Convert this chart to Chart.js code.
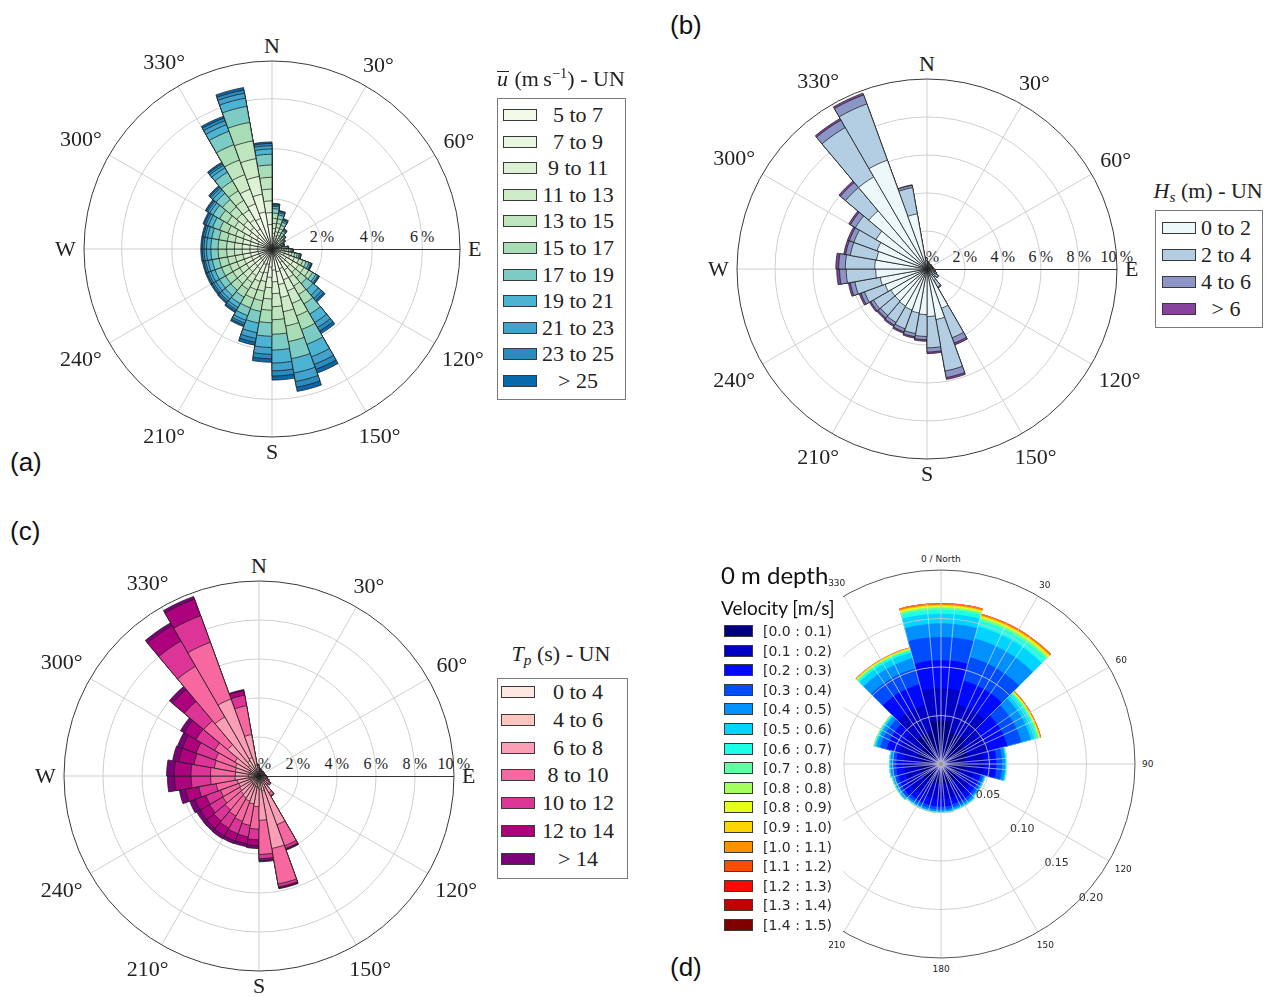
<!DOCTYPE html>
<html>
<head>
<meta charset="utf-8">
<title>Wind, wave and current roses</title>
<script src="https://cdn.jsdelivr.net/npm/chart.js@4.4.1/dist/chart.umd.min.js"></script>
<style>
html,body{margin:0;padding:0;background:#fff;}
body{width:1269px;height:997px;position:relative;overflow:hidden;font-family:"Liberation Serif","Times New Roman",serif;color:#222;}
canvas{position:absolute;z-index:2;}
.t{position:absolute;white-space:nowrap;line-height:1;z-index:3;}
.tick{z-index:1;}
.panel{position:absolute;font-family:"Liberation Sans",Arial,sans-serif;font-size:26px;line-height:1;color:#111;z-index:3;}
.legbox{position:absolute;border:1px solid #7a7a7a;box-sizing:border-box;z-index:3;}
.sw{position:absolute;border:1px solid #3a3a3a;box-sizing:border-box;z-index:5;}
sup{font-size:0.66em;vertical-align:0;position:relative;top:-0.55em;line-height:0;}
sub{font-size:0.7em;vertical-align:0;position:relative;top:0.28em;line-height:0;}
.ubar{display:inline-block;font-style:italic;border-top:1px solid #222;line-height:0.62em;padding:0 1px 0 0;}
#legd{position:absolute;left:714px;top:594px;width:129px;height:342px;background:#fff;z-index:4;}
.dtxt{font-family:"DejaVu Sans",sans-serif;}
</style>
</head>
<body>
<div class="panel" style="left:10px;top:449px">(a)</div>
<div class="panel" style="left:670px;top:12px">(b)</div>
<div class="panel" style="left:10px;top:518px">(c)</div>
<div class="panel" style="left:670px;top:954px">(d)</div>
<canvas id="ca"></canvas>
<canvas id="cb"></canvas>
<canvas id="cc"></canvas>
<canvas id="cd"></canvas>
<div id="legd"></div>
<script>
// ---------------- categories ----------------
const sectorStartsABC = [0,10,20,30,40,50,60,70,80,90,100,110,120,130,140,150,160,170,180,190,200,210,220,230,240,250,260,270,280,290,300,310,320,330,340,350];
const sectorCentresD  = [0,10,20,30,40,50,60,70,80,90,100,110,120,130,140,150,160,170,180,190,200,210,220,230,240,250,260,270,280,290,300,310,320,330,340,350];
const compassLabels  = ['N','30°','60°','E','120°','150°','S','210°','240°','W','300°','330°'];
const compassLabelsD = ['0 / North','30','60','90','120','150','180','210','240','270','300','330'];

// ---------------- tick values ----------------
const ringTicksA = [2,4,6];          const outerA = 7.5;
const ringTicksBC = [2,4,6,8];       const outerBC = 10;
const tickLabelValuesA = [2,4,6];
const tickLabelValuesBC = [0,2,4,6,8,10];
const ringTicksD = [0.05,0.10,0.15]; const outerD = 0.20;
const tickLabelValuesD = [0.05,0.10,0.15,0.20];

// ---------------- (a) wind speed classes, % per sector ----------------
const uClasses = ['5 to 7','7 to 9','9 to 11','11 to 13','13 to 15','15 to 17','17 to 19','19 to 21','21 to 23','23 to 25','&gt; 25'];
const uColors  = ['#f2faea','#e8f6e0','#ddf1d5','#cdebc7','#bfe5bf','#a9ddb6','#7ccbc4','#4db3d3','#41a2cb','#2a8bbe','#0868ac'];
const u5_7   = [0.42,0.36,0.30,0.22,0.22,0.19,0.16,0.15,0.20,0.26,0.36,0.51,0.66,0.44,0.62,0.84,0.92,0.84,0.72,0.62,0.66,0.59,0.57,0.56,0.56,0.56,0.57,0.57,0.57,0.59,0.70,0.76,0.92,1.30,1.50,0.98];
const u7_9   = [0.20,0.17,0.14,0.10,0.10,0.09,0.07,0.07,0.09,0.12,0.17,0.24,0.31,0.25,0.35,0.47,0.52,0.47,0.41,0.35,0.36,0.32,0.31,0.31,0.31,0.31,0.31,0.31,0.31,0.32,0.34,0.36,0.44,0.62,0.72,0.47];
const u9_11  = [0.20,0.17,0.14,0.10,0.09,0.07,0.06,0.06,0.08,0.10,0.14,0.20,0.26,0.25,0.35,0.47,0.52,0.47,0.41,0.35,0.36,0.32,0.31,0.31,0.31,0.31,0.31,0.31,0.31,0.32,0.34,0.36,0.44,0.62,0.72,0.47];
const u11_13 = [0.20,0.17,0.14,0.10,0.08,0.07,0.06,0.06,0.07,0.09,0.13,0.19,0.24,0.28,0.39,0.53,0.58,0.52,0.45,0.39,0.36,0.32,0.31,0.31,0.31,0.31,0.31,0.31,0.31,0.32,0.34,0.36,0.44,0.62,0.72,0.47];
const u13_15 = [0.20,0.17,0.14,0.10,0.07,0.06,0.05,0.05,0.07,0.09,0.12,0.17,0.22,0.28,0.39,0.53,0.58,0.52,0.45,0.39,0.36,0.32,0.31,0.31,0.31,0.31,0.31,0.31,0.31,0.32,0.34,0.36,0.44,0.62,0.72,0.47];
const u15_17 = [0.21,0.18,0.15,0.11,0.06,0.05,0.04,0.04,0.05,0.07,0.10,0.14,0.18,0.30,0.43,0.58,0.63,0.58,0.50,0.43,0.40,0.35,0.34,0.34,0.34,0.34,0.34,0.34,0.34,0.35,0.35,0.38,0.46,0.65,0.75,0.49];
const u17_19 = [0.18,0.16,0.13,0.10,0.05,0.04,0.04,0.04,0.05,0.06,0.08,0.12,0.15,0.33,0.47,0.63,0.69,0.63,0.54,0.47,0.33,0.30,0.29,0.28,0.28,0.28,0.29,0.29,0.29,0.30,0.31,0.33,0.40,0.57,0.65,0.43];
const u19_21 = [0.09,0.08,0.07,0.05,0.03,0.02,0.02,0.02,0.03,0.03,0.05,0.07,0.09,0.28,0.39,0.53,0.58,0.52,0.45,0.39,0.20,0.18,0.17,0.17,0.17,0.17,0.17,0.17,0.17,0.18,0.15,0.17,0.20,0.28,0.33,0.21];
const u21_23 = [0.05,0.05,0.04,0.03,0.01,0.01,0.01,0.01,0.01,0.02,0.02,0.03,0.04,0.17,0.23,0.32,0.35,0.31,0.27,0.23,0.12,0.10,0.10,0.10,0.10,0.10,0.10,0.10,0.10,0.10,0.09,0.10,0.12,0.17,0.20,0.13];
const u23_25 = [0.04,0.03,0.03,0.02,0.01,0.01,0.01,0.01,0.01,0.01,0.01,0.02,0.02,0.11,0.16,0.21,0.23,0.21,0.18,0.16,0.08,0.07,0.07,0.07,0.07,0.07,0.07,0.07,0.07,0.07,0.06,0.07,0.08,0.11,0.13,0.09];
const u25p   = [0.03,0.02,0.02,0.01,0.01,0.01,0.01,0.01,0.01,0.01,0.01,0.02,0.02,0.08,0.12,0.16,0.17,0.16,0.14,0.12,0.07,0.06,0.06,0.06,0.06,0.06,0.06,0.06,0.06,0.06,0.05,0.05,0.06,0.08,0.10,0.06];

// ---------------- (b) significant wave height classes ----------------
const hsClasses = ['0 to 2','2 to 4','4 to 6','&gt; 6'];
const hsColors  = ['#edf8fb','#b3cde3','#8c96c6','#88419d'];
const hs0_2 = [0.30,0.27,0.24,0.24,0.24,0.24,0.24,0.24,0.27,0.30,0.35,0.40,0.45,0.40,0.70,2.20,2.70,2.50,2.40,2.35,2.30,2.25,2.20,2.20,2.35,2.50,2.70,2.75,2.70,2.80,3.10,4.00,5.60,6.10,2.95,0.45];
const hs2_4 = [0.09,0.07,0.05,0.05,0.05,0.05,0.05,0.05,0.07,0.09,0.09,0.13,0.22,0.17,0.40,1.65,2.75,1.65,1.15,1.10,1.05,1.00,1.00,1.05,1.15,1.35,1.55,1.55,1.40,1.30,1.25,1.60,3.00,3.15,1.40,0.13];
const hs4_6 = [0.01,0.01,0.01,0.01,0.01,0.01,0.01,0.01,0.01,0.01,0.01,0.02,0.03,0.03,0.05,0.30,0.35,0.22,0.17,0.17,0.17,0.17,0.17,0.17,0.20,0.25,0.35,0.35,0.25,0.25,0.30,0.35,0.45,0.50,0.12,0.02];
const hs6p  = [0,0,0,0,0,0,0,0,0,0,0,0,0,0,0,0.10,0.10,0.08,0.08,0.08,0.08,0.08,0.08,0.08,0.10,0.10,0.15,0.15,0.10,0.10,0.10,0.10,0.10,0.10,0.03,0];

// ---------------- (c) peak period classes ----------------
const tpClasses = ['0 to 4','4 to 6','6 to 8','8 to 10','10 to 12','12 to 14','&gt; 14'];
const tpColors  = ['#fde7e1','#fcc5c0','#fa9fb5','#f768a1','#dd3497','#ae017e','#7a0177'];
const tp0_4   = [0.04,0.04,0.03,0.03,0.03,0.03,0.03,0.03,0.04,0.04,0.04,0.04,0.04,0.04,0.05,0.06,0.07,0.07,0.07,0.07,0.07,0.07,0.07,0.07,0.07,0.08,0.08,0.08,0.08,0.08,0.08,0.10,0.10,0.10,0.06,0.04];
const tp4_6   = [0.16,0.15,0.14,0.14,0.14,0.14,0.14,0.14,0.16,0.18,0.20,0.25,0.30,0.25,0.45,0.60,0.70,0.60,0.50,0.48,0.45,0.42,0.40,0.38,0.38,0.40,0.45,0.46,0.40,0.40,0.45,0.60,0.80,0.90,0.50,0.20];
const tp6_8   = [0.13,0.11,0.10,0.10,0.10,0.10,0.10,0.10,0.11,0.13,0.15,0.19,0.26,0.22,0.50,2.00,3.00,1.60,1.00,0.90,0.85,0.80,0.75,0.70,0.65,0.65,0.70,0.68,0.75,0.80,0.90,1.40,2.60,3.20,1.60,0.20];
const tp8_10  = [0.05,0.04,0.02,0.02,0.02,0.02,0.02,0.02,0.03,0.04,0.05,0.06,0.09,0.08,0.17,1.15,1.85,1.75,1.15,1.12,1.10,1.08,1.05,1.00,1.00,1.10,1.25,1.27,1.10,1.10,1.20,1.60,3.00,3.10,1.50,0.10];
const tp10_12 = [0.02,0.01,0.01,0.01,0.01,0.01,0.01,0.01,0.01,0.01,0.01,0.01,0.01,0.01,0.02,0.15,0.15,0.22,0.55,0.60,0.68,0.72,0.75,0.78,0.80,0.90,1.00,1.00,1.05,1.05,1.10,1.30,1.50,1.45,0.55,0.04];
const tp12_14 = [0,0,0,0,0,0,0,0,0,0,0,0,0,0,0.01,0.05,0.06,0.10,0.30,0.36,0.40,0.45,0.48,0.54,0.60,0.70,0.85,0.86,0.80,0.75,0.70,0.80,0.90,0.90,0.24,0.02];
const tp14p   = [0,0,0,0,0,0,0,0,0,0,0,0,0,0,0,0.04,0.04,0.06,0.15,0.15,0.15,0.18,0.20,0.22,0.28,0.32,0.37,0.39,0.32,0.27,0.22,0.20,0.17,0.15,0.05,0];

// ---------------- (d) current velocity classes (frequency) ----------------
const vClasses = ['[0.0 : 0.1)','[0.1 : 0.2)','[0.2 : 0.3)','[0.3 : 0.4)','[0.4 : 0.5)','[0.5 : 0.6)','[0.6 : 0.7)','[0.7 : 0.8)','[0.8 : 0.8)','[0.8 : 0.9)','[0.9 : 1.0)','[1.0 : 1.1)','[1.1 : 1.2)','[1.2 : 1.3)','[1.3 : 1.4)','[1.4 : 1.5)'];
const vColors  = ['#000080','#0000c4','#0008ff','#004cff','#0091ff','#00d4ff','#1affe6','#5effa2','#a2ff5e','#e6ff1a','#ffd400','#ff9100','#ff4c00','#ff0800','#c40000','#800000'];
const v00_01 = [.045,.045,.034,.034,.034,.029,.029,.029,.025,.025,.025,.020,.020,.020,.021,.021,.021,.021,.021,.021,.021,.021,.021,.022,.022,.022,.022,.022,.022,.025,.025,.025,.035,.035,.035,.045];
const v01_02 = [.033,.033,.030,.030,.030,.022,.022,.022,.020,.020,.020,.015,.015,.015,.015,.015,.015,.015,.015,.015,.015,.015,.015,.016,.016,.016,.016,.016,.016,.020,.020,.020,.028,.028,.028,.033];
const v02_03 = [.029,.029,.025,.025,.025,.020,.020,.020,.012,.012,.012,.007,.007,.007,.007,.007,.007,.008,.008,.008,.008,.008,.008,.008,.008,.008,.008,.008,.008,.013,.013,.013,.022,.022,.022,.029];
const v03_04 = [.024,.024,.025,.025,.025,.015,.015,.015,.006,.006,.006,.003,.003,.003,.003,.003,.003,.003,.003,.003,.003,.003,.003,.003,.003,.003,.004,.004,.004,.007,.007,.007,.017,.017,.017,.024];
const v04_05 = [.014,.014,.020,.020,.020,.010,.010,.010,.003,.003,.003,.0015,.0015,.0015,.002,.002,.002,.002,.002,.002,.002,.002,.002,.002,.002,.002,.002,.002,.002,.004,.004,.004,.011,.011,.011,.014];
const v05_06 = [.010,.010,.013,.013,.013,.005,.005,.005,.001,.001,.001,.0008,.0008,.0008,.0010,.0010,.0010,.0010,.0010,.0010,.0010,.0010,.0010,.0010,.0010,.0010,.0010,.0010,.0010,.0015,.0015,.0015,.006,.006,.006,.010];
const v06_07 = [.004,.004,.006,.006,.006,.002,.002,.002,.0005,.0005,.0005,.0003,.0003,.0003,.0005,.0005,.0005,.0005,.0005,.0005,.0005,.0005,.0005,.0005,.0005,.0005,.0005,.0005,.0005,.0008,.0008,.0008,.002,.002,.002,.004];
const v07_08 = [.002,.002,.002,.002,.002,.001,.001,.001,.0003,.0003,.0003,0,0,0,0,0,0,0,0,0,0,0,0,0,0,0,0,0,0,.0004,.0004,.0004,.001,.001,.001,.002];
const v08_08 = [.001,.001,.0015,.0015,.0015,.0007,.0007,.0007,.0002,.0002,.0002,0,0,0,0,0,0,0,0,0,0,0,0,0,0,0,0,0,0,.0003,.0003,.0003,.0007,.0007,.0007,.001];
const v08_09 = [.001,.001,.001,.001,.001,.0005,.0005,.0005,0,0,0,0,0,0,0,0,0,0,0,0,0,0,0,0,0,0,0,0,0,0,0,0,.0005,.0005,.0005,.001];
const v09_10 = [.001,.001,.001,.001,.001,.0006,.0006,.0006,0,0,0,0,0,0,0,0,0,0,0,0,0,0,0,0,0,0,0,0,0,0,0,0,.0006,.0006,.0006,.001];
const v10_11 = [.001,.001,.001,.001,.001,.0006,.0006,.0006,0,0,0,0,0,0,0,0,0,0,0,0,0,0,0,0,0,0,0,0,0,0,0,0,.0004,.0004,.0004,.001];
const v11_12 = [.0008,.0008,.0008,.0008,.0008,.0004,.0004,.0004,0,0,0,0,0,0,0,0,0,0,0,0,0,0,0,0,0,0,0,0,0,0,0,0,.0002,.0002,.0002,.0008];
const v12_13 = [0,0,0,0,0,0,0,0,0,0,0,0,0,0,0,0,0,0,0,0,0,0,0,0,0,0,0,0,0,0,0,0,0,0,0,0];
const v13_14 = [0,0,0,0,0,0,0,0,0,0,0,0,0,0,0,0,0,0,0,0,0,0,0,0,0,0,0,0,0,0,0,0,0,0,0,0];
const v14_15 = [0,0,0,0,0,0,0,0,0,0,0,0,0,0,0,0,0,0,0,0,0,0,0,0,0,0,0,0,0,0,0,0,0,0,0,0];

// sanity check on lengths
{
  const all = {u5_7,u7_9,u9_11,u11_13,u13_15,u15_17,u17_19,u19_21,u21_23,u23_25,u25p,hs0_2,hs2_4,hs4_6,hs6p,tp0_4,tp4_6,tp6_8,tp8_10,tp10_12,tp12_14,tp14p,v00_01,v01_02,v02_03,v03_04,v04_05,v05_06,v06_07,v07_08,v08_08,v08_09,v09_10,v10_11,v11_12,v12_13,v13_14,v14_15};
  for (const k in all) if (all[k].length !== 36) throw new Error('bad length ' + k + ' ' + all[k].length);
}

// ---------------- drawing helpers ----------------
const roseDeco = {
  id: 'roseDeco',
  beforeDatasetsDraw(chart, args, o) { if (!o.onTop) drawDeco(chart, o); },
  afterDatasetsDraw(chart, args, o) { if (o.onTop) drawDeco(chart, o); }
};
function drawDeco(chart, o) {
  const s = chart.scales.r, ctx = chart.ctx;
  const cx = s.xCenter, cy = s.yCenter, R = s.getDistanceFromCenterForValue(s.max);
  ctx.save();
  ctx.lineWidth = 1;
  for (let a = 0; a < 360; a += 30) {
    if (o.darkAxis && a === 90) continue;
    const t = (a - 90) * Math.PI / 180;
    ctx.beginPath(); ctx.moveTo(cx, cy); ctx.lineTo(cx + R * Math.cos(t), cy + R * Math.sin(t));
    ctx.strokeStyle = o.lineColor; ctx.stroke();
  }
  if (o.darkAxis) {
    ctx.beginPath(); ctx.moveTo(cx, cy + 0.5); ctx.lineTo(cx + R, cy + 0.5);
    ctx.strokeStyle = o.axisColor; ctx.lineWidth = 1.1; ctx.stroke();
  }
  ctx.beginPath(); ctx.arc(cx, cy, R, 0, Math.PI * 2);
  ctx.strokeStyle = o.outerColor; ctx.lineWidth = o.outerWidth; ctx.stroke();
  if (o.hub) {
    ctx.beginPath(); ctx.arc(cx, cy, 2.5, 0, Math.PI * 2);
    ctx.fillStyle = o.hub; ctx.fill();
  }
  ctx.restore();
}

function makeRose(id, cfg) {
  const cv = document.getElementById(id);
  const W = 2 * cfg.R + 2;
  cv.width = W; cv.height = W;
  cv.style.width = W + 'px'; cv.style.height = W + 'px';
  const left = cfg.cx - cfg.R - 1, top = cfg.cy - cfg.R - 1;
  cv.style.left = left + 'px'; cv.style.top = top + 'px';
  let acc = new Array(cfg.labels.length).fill(0);
  const datasets = cfg.series.map((arr, k) => {
    acc = acc.map((v, i) => v + arr[i]);
    return { label: cfg.classNames[k], data: acc.slice(), backgroundColor: cfg.colors[k],
             borderColor: cfg.border, borderWidth: cfg.borderWidth };
  });
  if (cfg.edgeColor) {
    datasets.unshift({ label: 'edges', data: acc.slice(), backgroundColor: 'rgba(0,0,0,0)',
                       borderColor: cfg.edgeColor, borderWidth: cfg.edgeWidth });
  }
  const chart = new Chart(cv, {
    type: 'polarArea',
    data: { labels: cfg.labels, datasets },
    plugins: [roseDeco],
    options: {
      responsive: false, animation: false, events: [],
      layout: { padding: 1 },
      plugins: { legend: { display: false }, tooltip: { enabled: false }, roseDeco: cfg.deco },
      scales: {
        r: {
          min: 0, max: cfg.max, startAngle: cfg.startAngle,
          ticks: { display: false },
          afterBuildTicks: (s) => { s.ticks = [0].concat(cfg.rings).map(v => ({ value: v })); },
          grid: { circular: true, color: cfg.gridColor, lineWidth: 1, z: cfg.gridZ },
          angleLines: { display: false },
          pointLabels: { display: false }
        }
      }
    }
  });
  chart._pageLeft = left; chart._pageTop = top;
  return chart;
}

function addDiv(html, cls, style) {
  const el = document.createElement('div');
  el.className = cls; el.innerHTML = html;
  Object.assign(el.style, style || {});
  document.body.appendChild(el);
  return el;
}
function centreAt(el, x, y) {
  const w = el.offsetWidth, h = el.offsetHeight;
  el.style.left = (x - w / 2) + 'px'; el.style.top = (y - h / 2) + 'px';
}
function compass(chart, labels, font, pad, hHalf, extraNum) {
  const s = chart.scales.r;
  const cx = chart._pageLeft + s.xCenter, cy = chart._pageTop + s.yCenter;
  const R = s.getDistanceFromCenterForValue(s.max);
  labels.forEach((t, i) => {
    const el = addDiv(t, 't', { font: font, color: '#222' });
    const w = el.offsetWidth;
    const a = i * 30 * Math.PI / 180, sx = Math.sin(a), sy = -Math.cos(a);
    const isNum = /\d/.test(t) ? extraNum : 0;
    const d = R + pad + Math.abs(sx) * w / 2 + Math.abs(sy) * hHalf + isNum;
    centreAt(el, cx + sx * d, cy + sy * d);
  });
}
function radialTicks(chart, values, fmt, font, cls, dy) {
  const s = chart.scales.r;
  const cx = chart._pageLeft + s.xCenter, cy = chart._pageTop + s.yCenter;
  values.forEach(v => {
    const el = addDiv(fmt(v), 't ' + cls, { font: font, color: '#222' });
    centreAt(el, cx + s.getDistanceFromCenterForValue(v), cy + dy);
  });
}
function legend(o) {
  addDiv('', 'legbox', { left: o.box[0] + 'px', top: o.box[1] + 'px', width: o.box[2] + 'px', height: o.box[3] + 'px' });
  o.names.forEach((n, k) => {
    const y = o.y0 + k * o.dy;
    addDiv('', 'sw', { left: o.swX + 'px', top: (y - o.swH / 2) + 'px', width: o.swW + 'px', height: o.swH + 'px', background: o.colors[k] });
    const el = addDiv(n, 't', { font: o.font, color: '#222' });
    centreAt(el, o.textX, y);
  });
  const ttl = addDiv(o.title, 't', { font: o.font, color: '#222' });
  centreAt(ttl, o.titleX, o.titleY);
}

// ---------------- charts (a), (b), (c) ----------------
const decoABC = { onTop: false, darkAxis: true, lineColor: '#cfcfcf', axisColor: '#333', outerColor: '#3a3a3a', outerWidth: 1 };
const serifLabelFont = '22px "Liberation Serif", serif';
const serifTickFont = '16px "Liberation Serif", serif';
const pct = v => v + '\u2009%';

const chA = makeRose('ca', {
  cx: 272, cy: 249, R: 188, max: outerA, rings: ringTicksA, startAngle: 0,
  labels: sectorStartsABC.map(d => d + '°'),
  series: [u5_7,u7_9,u9_11,u11_13,u13_15,u15_17,u17_19,u19_21,u21_23,u23_25,u25p],
  classNames: uClasses, colors: uColors, border: '#1e1e1e', borderWidth: 0.75,
  gridColor: '#cfcfcf', gridZ: 0, deco: decoABC
});
const chB = makeRose('cb', {
  cx: 927, cy: 269, R: 190, max: outerBC, rings: ringTicksBC, startAngle: 0,
  labels: sectorStartsABC.map(d => d + '°'),
  series: [hs0_2,hs2_4,hs4_6,hs6p],
  classNames: hsClasses, colors: hsColors, border: '#1e1e1e', borderWidth: 0.75,
  gridColor: '#cfcfcf', gridZ: 0, deco: decoABC
});
const chC = makeRose('cc', {
  cx: 259, cy: 776, R: 195, max: outerBC, rings: ringTicksBC, startAngle: 0,
  labels: sectorStartsABC.map(d => d + '°'),
  series: [tp0_4,tp4_6,tp6_8,tp8_10,tp10_12,tp12_14,tp14p],
  classNames: tpClasses, colors: tpColors, border: '#1e1e1e', borderWidth: 0.75,
  gridColor: '#cfcfcf', gridZ: 0, deco: decoABC
});

// ---------------- chart (d) ----------------
const chD = makeRose('cd', {
  cx: 941, cy: 764, R: 194, max: outerD, rings: ringTicksD, startAngle: -5,
  labels: sectorCentresD.map(d => d + '°'),
  series: [v00_01,v01_02,v02_03,v03_04,v04_05,v05_06,v06_07,v07_08,v08_08,v08_09,v09_10,v10_11,v11_12,v12_13,v13_14,v14_15],
  classNames: vClasses, colors: vColors, border: 'rgba(0,0,0,0)', borderWidth: 0,
  edgeColor: 'rgba(235,235,255,0.55)', edgeWidth: 0.6,
  gridColor: 'rgba(200,200,200,0.85)', gridZ: 1,
  deco: { onTop: true, darkAxis: false, lineColor: 'rgba(200,200,200,0.85)', outerColor: '#555', outerWidth: 1, hub: '#9a9a9a' }
});

// ---------------- text ----------------
compass(chA, compassLabels, serifLabelFont, 8, 7, 3);
compass(chB, compassLabels, serifLabelFont, 8, 7, 3);
compass(chC, compassLabels, serifLabelFont, 8, 7, 3);
compass(chD, compassLabelsD, '9px "DejaVu Sans", sans-serif', 7, 4, 0);

radialTicks(chA, tickLabelValuesA, pct, serifTickFont, 'tick', -12);
radialTicks(chB, tickLabelValuesBC, pct, serifTickFont, 'tick', -12);
radialTicks(chC, tickLabelValuesBC, pct, serifTickFont, 'tick', -12);
{
  const s = chD.scales.r;
  const cx = chD._pageLeft + s.xCenter, cy = chD._pageTop + s.yCenter;
  tickLabelValuesD.forEach(v => {
    const r = s.getDistanceFromCenterForValue(v);
    const el = addDiv(v.toFixed(2), 't', { font: '11px "DejaVu Sans", sans-serif', color: '#333' });
    centreAt(el, cx + 13 + r * 0.7071, cy - 4 + r * 0.7071);
  });
}

legend({ box: [497, 98, 129, 302], names: uClasses, colors: uColors, y0: 115, dy: 26.6,
         swX: 503, swW: 34, swH: 12, textX: 578, font: serifLabelFont,
         title: '<span class="ubar">u</span> (m\u2009s<sup>\u22121</sup>) - UN',
         titleX: 561, titleY: 79 });
legend({ box: [1155, 210, 108, 118], names: hsClasses, colors: hsColors, y0: 228, dy: 27,
         swX: 1162, swW: 34, swH: 12, textX: 1226, font: serifLabelFont,
         title: '<i>H<sub>s</sub></i> (m) - UN', titleX: 1208, titleY: 191 });
legend({ box: [497, 678, 131, 201], names: tpClasses, colors: tpColors, y0: 692, dy: 27.8,
         swX: 501, swW: 34, swH: 12, textX: 578, font: serifLabelFont,
         title: '<i>T<sub>p</sub></i> (s) - UN', titleX: 561, titleY: 654 });

// (d) legend
addDiv('0 m depth', 't', { font: '24px Lato, "Open Sans", sans-serif', color: '#111', left: '721px', top: '560px', zIndex: 5 });
addDiv('Velocity [m/s]', 't', { font: '19px Lato, "Open Sans", sans-serif', color: '#111', left: '721px', top: '596px', zIndex: 5 });
vClasses.forEach((n, k) => {
  const y = 631 + k * 19.6;
  addDiv('', 'sw', { left: '724px', top: (y - 6) + 'px', width: '29px', height: '12px', background: vColors[k] });
  const el = addDiv(n, 't dtxt', { font: '14px "DejaVu Sans", sans-serif', color: '#2b2b2b', zIndex: 5 });
  el.style.left = '763px'; el.style.top = (y - el.offsetHeight / 2) + 'px';
});
</script>
</body>
</html>
